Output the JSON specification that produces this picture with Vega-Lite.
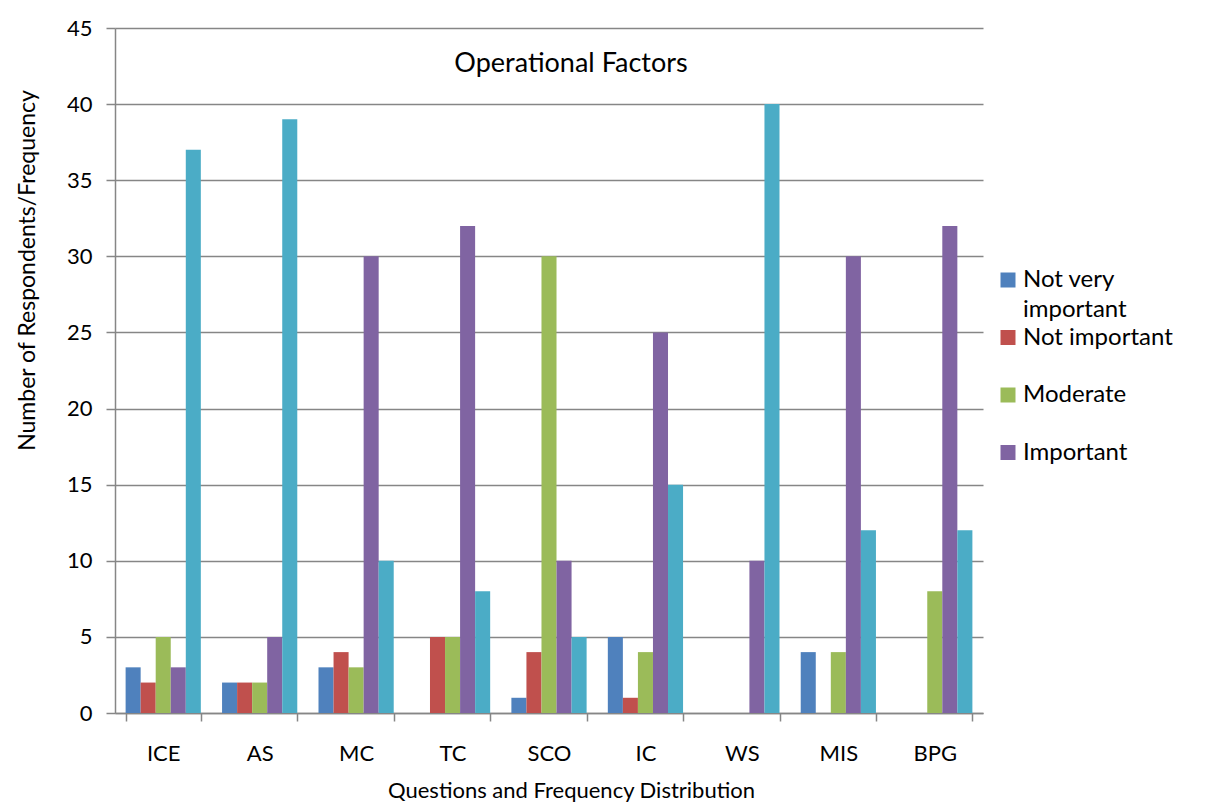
{
  "$schema": "https://vega.github.io/schema/vega-lite/v6.json",
  "autosize": "none",
  "width": 868,
  "height": 685,
  "padding": {"left": 115, "top": 28, "right": 227, "bottom": 91},
  "background": "white",
  "title": {
    "text": "Operational Factors",
    "anchor": "middle",
    "baseline": "middle",
    "offset": -35,
    "dy": 39,
    "dx": 22
  },
  "data": {
    "values": [
      {"q": "ICE", "level": "Not very important", "n": 3},
      {"q": "ICE", "level": "Not important", "n": 2},
      {"q": "ICE", "level": "Moderate", "n": 5},
      {"q": "ICE", "level": "Important", "n": 3},
      {"q": "ICE", "level": "Very important", "n": 37},
      {"q": "AS", "level": "Not very important", "n": 2},
      {"q": "AS", "level": "Not important", "n": 2},
      {"q": "AS", "level": "Moderate", "n": 2},
      {"q": "AS", "level": "Important", "n": 5},
      {"q": "AS", "level": "Very important", "n": 39},
      {"q": "MC", "level": "Not very important", "n": 3},
      {"q": "MC", "level": "Not important", "n": 4},
      {"q": "MC", "level": "Moderate", "n": 3},
      {"q": "MC", "level": "Important", "n": 30},
      {"q": "MC", "level": "Very important", "n": 10},
      {"q": "TC", "level": "Not very important", "n": 0},
      {"q": "TC", "level": "Not important", "n": 5},
      {"q": "TC", "level": "Moderate", "n": 5},
      {"q": "TC", "level": "Important", "n": 32},
      {"q": "TC", "level": "Very important", "n": 8},
      {"q": "SCO", "level": "Not very important", "n": 1},
      {"q": "SCO", "level": "Not important", "n": 4},
      {"q": "SCO", "level": "Moderate", "n": 30},
      {"q": "SCO", "level": "Important", "n": 10},
      {"q": "SCO", "level": "Very important", "n": 5},
      {"q": "IC", "level": "Not very important", "n": 5},
      {"q": "IC", "level": "Not important", "n": 1},
      {"q": "IC", "level": "Moderate", "n": 4},
      {"q": "IC", "level": "Important", "n": 25},
      {"q": "IC", "level": "Very important", "n": 15},
      {"q": "WS", "level": "Not very important", "n": 0},
      {"q": "WS", "level": "Not important", "n": 0},
      {"q": "WS", "level": "Moderate", "n": 0},
      {"q": "WS", "level": "Important", "n": 10},
      {"q": "WS", "level": "Very important", "n": 40},
      {"q": "MIS", "level": "Not very important", "n": 4},
      {"q": "MIS", "level": "Not important", "n": 0},
      {"q": "MIS", "level": "Moderate", "n": 4},
      {"q": "MIS", "level": "Important", "n": 30},
      {"q": "MIS", "level": "Very important", "n": 12},
      {"q": "BPG", "level": "Not very important", "n": 0},
      {"q": "BPG", "level": "Not important", "n": 0},
      {"q": "BPG", "level": "Moderate", "n": 8},
      {"q": "BPG", "level": "Important", "n": 32},
      {"q": "BPG", "level": "Very important", "n": 12}
    ]
  },
  "mark": {"type": "bar"},
  "encoding": {
    "x": {
      "field": "q",
      "type": "nominal",
      "sort": null,
      "scale": {"paddingInner": 0.22, "paddingOuter": 0.11},
      "axis": {
        "title": "Questions and Frequency Distribution",
        "labelAngle": 0,
        "tickBand": "extent",
        "tickSize": 8,
        "labelPadding": 22,
        "titlePadding": 16,
        "titleFontSize": 22,
        "titleX": 456,
        "titleAlign": "center",
        "grid": false
      }
    },
    "xOffset": {
      "field": "level",
      "type": "nominal",
      "sort": ["Not very important", "Not important", "Moderate", "Important", "Very important"],
      "scale": {"paddingInner": 0, "paddingOuter": 0}
    },
    "y": {
      "field": "n",
      "type": "quantitative",
      "scale": {"domain": [0, 45], "nice": false},
      "axis": {
        "title": "Number of Respondents/Frequency",
        "values": [0, 5, 10, 15, 20, 25, 30, 35, 40, 45],
        "tickSize": 9,
        "labelPadding": 14,
        "grid": true,
        "titleX": -88,
        "titleY": 242,
        "titleAngle": -90,
        "titleAlign": "center",
        "titleBaseline": "middle"
      }
    },
    "color": {
      "field": "level",
      "type": "nominal",
      "scale": {
        "domain": ["Not very important", "Not important", "Moderate", "Important", "Very important"],
        "range": ["#4F81BD", "#C0504D", "#9BBB59", "#8064A2", "#4BACC6"]
      },
      "legend": {
        "title": null,
        "orient": "none",
        "legendX": 881,
        "legendY": 240,
        "values": ["Not very important", "Not important", "Moderate", "Important"],
        "symbolType": "square",
        "symbolSize": 225,
        "symbolStrokeWidth": 0,
        "symbolOpacity": 1,
        "labelFont": "Lato",
        "labelFontSize": 24,
        "labelColor": "black",
        "labelLimit": 300,
        "labelOffset": 3,
        "labelBaseline": "middle",
        "labelExpr": "datum.label == 'Not very important' ? ['Not very', 'important'] : [datum.label, '']",
        "rowPadding": 3.5
      }
    }
  },
  "config": {
    "view": {"stroke": null},
    "style": {"guide-label": {"lineHeight": 30}},
    "title": {
      "font": "Lato",
      "fontSize": 27,
      "fontWeight": "normal",
      "color": "black"
    },
    "axis": {
      "labelFont": "Lato",
      "labelFontSize": 22,
      "labelColor": "black",
      "titleFont": "Lato",
      "titleFontSize": 23,
      "titleFontWeight": "normal",
      "titleColor": "black",
      "domainColor": "#868686",
      "domainWidth": 1.5,
      "tickColor": "#868686",
      "tickWidth": 1.5,
      "gridColor": "#868686",
      "gridWidth": 1.5,
      "gridOpacity": 1
    }
  }
}
